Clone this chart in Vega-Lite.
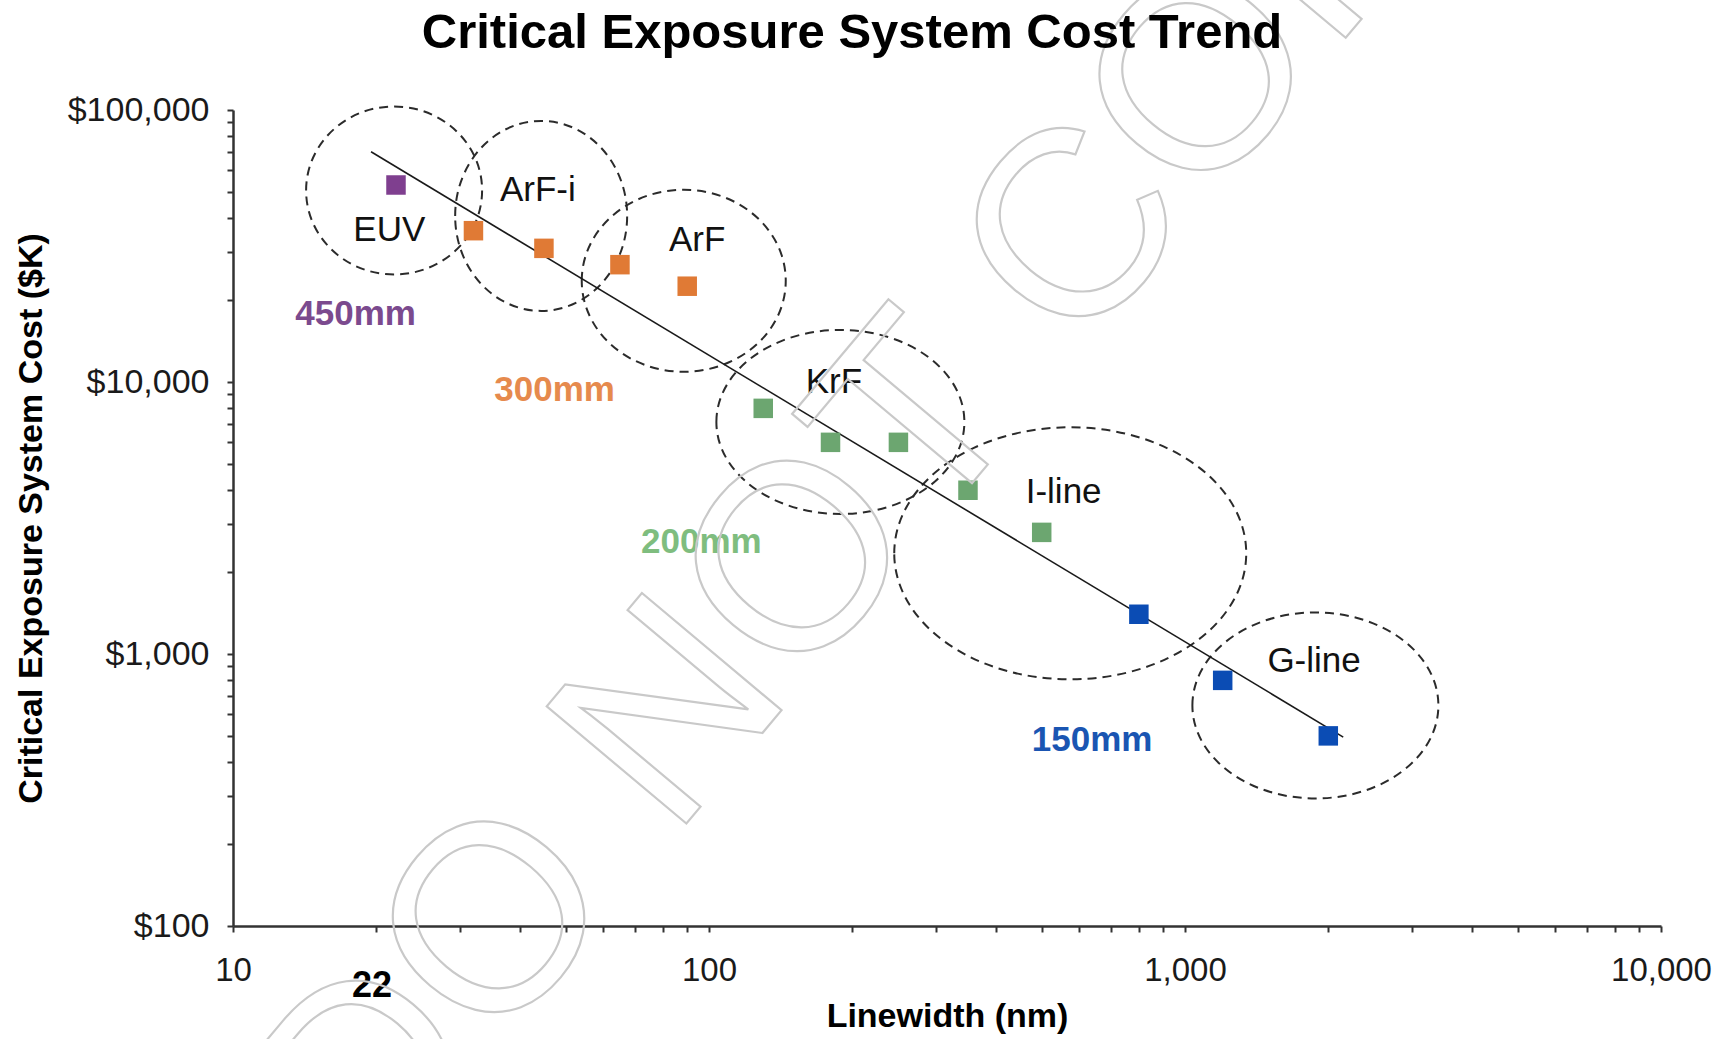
{
  "$schema": "https://vega.github.io/schema/vega-lite/v6.json",
  "autosize": "none",
  "width": 1428,
  "height": 816,
  "padding": {"left": 233, "top": 110, "right": 67, "bottom": 113},
  "background": "white",
  "config": {
    "view": {"stroke": null},
    "font": "Liberation Sans"
  },
  "title": {
    "text": "Critical Exposure System Cost Trend",
    "font": "Liberation Sans",
    "fontSize": 49,
    "fontWeight": "bold",
    "color": "#000000",
    "anchor": "middle",
    "dx": -95,
    "offset": -412
  },
  "datasets": {
    "points": [
      {"lw": 22, "cost": 53000, "wafer": "450mm"},
      {"lw": 32, "cost": 36000, "wafer": "300mm"},
      {"lw": 45, "cost": 31000, "wafer": "300mm"},
      {"lw": 65, "cost": 27000, "wafer": "300mm"},
      {"lw": 90, "cost": 22500, "wafer": "300mm"},
      {"lw": 130, "cost": 8000, "wafer": "200mm"},
      {"lw": 180, "cost": 6000, "wafer": "200mm"},
      {"lw": 250, "cost": 6000, "wafer": "200mm"},
      {"lw": 350, "cost": 4000, "wafer": "200mm"},
      {"lw": 500, "cost": 2800, "wafer": "200mm"},
      {"lw": 800, "cost": 1400, "wafer": "150mm"},
      {"lw": 1200, "cost": 800, "wafer": "150mm"},
      {"lw": 2000, "cost": 500, "wafer": "150mm"}
    ],
    "trend": [
      {"lw": 19.5, "cost": 70200},
      {"lw": 2150, "cost": 495}
    ],
    "groups": [
      {"tech": "EUV", "lw": 21.8, "cost": 50600},
      {"tech": "ArF-i", "lw": 44.4, "cost": 40800},
      {"tech": "ArF", "lw": 88.5, "cost": 23560},
      {"tech": "KrF", "lw": 188.8, "cost": 7130},
      {"tech": "I-line", "lw": 574, "cost": 2345},
      {"tech": "G-line", "lw": 1879, "cost": 647}
    ],
    "techLabels": [
      {"text": "EUV", "lw": 21.3, "cost": 36100},
      {"text": "ArF-i", "lw": 43.7, "cost": 51000},
      {"text": "ArF", "lw": 94.4, "cost": 33300},
      {"text": "KrF", "lw": 183, "cost": 9970},
      {"text": "I-line", "lw": 556, "cost": 3956},
      {"text": "G-line", "lw": 1867, "cost": 940}
    ],
    "waferLabels": [
      {"text": "450mm", "lw": 18.1, "cost": 17800},
      {"text": "300mm", "lw": 47.4, "cost": 9330},
      {"text": "200mm", "lw": 96.4, "cost": 2580},
      {"text": "150mm", "lw": 638, "cost": 484}
    ],
    "note": [
      {"text": "22", "lw": 19.6, "cost": 60}
    ],
    "watermark": [
      {"text": "DO NOT COPY", "lw": 255.6, "cost": 6070}
    ]
  },
  "encoding": {
    "x": {
      "field": "lw",
      "type": "quantitative",
      "scale": {"type": "log", "domain": [10, 10000], "nice": false},
      "axis": {
        "title": "Linewidth (nm)",
        "titleFont": "Liberation Sans",
        "titleFontSize": 34,
        "titleFontWeight": "bold",
        "titleColor": "#000000",
        "titleX": 714,
        "titleY": 90,
        "titleBaseline": "middle",
        "titleAnchor": null,
        "values": [10, 20, 30, 40, 50, 60, 70, 80, 90, 100, 200, 300, 400, 500, 600, 700, 800, 900, 1000, 2000, 3000, 4000, 5000, 6000, 7000, 8000, 9000, 10000],
        "labelExpr": "indexof([10,100,1000,10000], datum.value) >= 0 ? format(datum.value, ',') : ''",
        "labelOverlap": false,
        "labelFlush": false,
        "labelFont": "Liberation Sans",
        "labelFontSize": 33,
        "labelColor": "#1a1a1a",
        "labelPadding": 22,
        "tickSize": 6,
        "tickWidth": 2,
        "tickColor": "#333333",
        "domainColor": "#333333",
        "domainWidth": 2.5,
        "grid": false
      }
    },
    "y": {
      "field": "cost",
      "type": "quantitative",
      "scale": {"type": "log", "domain": [100, 100000], "nice": false},
      "axis": {
        "title": "Critical Exposure System Cost ($K)",
        "titleFont": "Liberation Sans",
        "titleFontSize": 34,
        "titleFontWeight": "bold",
        "titleColor": "#000000",
        "titleAngle": -90,
        "titleX": -202,
        "titleY": 408,
        "titleBaseline": "middle",
        "titleAlign": "center",
        "titleAnchor": null,
        "values": [100, 200, 300, 400, 500, 600, 700, 800, 900, 1000, 2000, 3000, 4000, 5000, 6000, 7000, 8000, 9000, 10000, 20000, 30000, 40000, 50000, 60000, 70000, 80000, 90000, 100000],
        "labelExpr": "indexof([100,1000,10000,100000], datum.value) >= 0 ? '$' + format(datum.value, ',') : ''",
        "labelOverlap": false,
        "labelFlush": false,
        "labelFont": "Liberation Sans",
        "labelFontSize": 34,
        "labelColor": "#1a1a1a",
        "labelPadding": 18,
        "tickSize": 6,
        "tickWidth": 2,
        "tickColor": "#333333",
        "domainColor": "#333333",
        "domainWidth": 2.5,
        "grid": false
      }
    }
  },
  "layer": [
    {
      "data": {"name": "groups"},
      "mark": {"type": "point", "filled": false, "size": 4, "opacity": 1, "stroke": "#2b2b2b", "strokeWidth": 2, "strokeDash": [9, 6]},
      "encoding": {
        "shape": {
          "field": "tech",
          "type": "nominal",
          "legend": null,
          "scale": {
            "domain": ["EUV", "ArF-i", "ArF", "KrF", "I-line", "G-line"],
            "range": [
              "M-88,0C-88,-46.4,-48.6,-84,0,-84C48.6,-84,88,-46.4,88,0C88,46.4,48.6,84,0,84C-48.6,84,-88,46.4,-88,0Z",
              "M-86,0C-86,-52.5,-47.5,-95,0,-95C47.5,-95,86,-52.5,86,0C86,52.5,47.5,95,0,95C-47.5,95,-86,52.5,-86,0Z",
              "M-102,0C-102,-50.3,-56.3,-91,0,-91C56.3,-91,102,-50.3,102,0C102,50.3,56.3,91,0,91C-56.3,91,-102,50.3,-102,0Z",
              "M-124,0C-124,-50.8,-68.5,-92,0,-92C68.5,-92,124,-50.8,124,0C124,50.8,68.5,92,0,92C-68.5,92,-124,50.8,-124,0Z",
              "M-176,0C-176,-69.6,-97.2,-126,0,-126C97.2,-126,176,-69.6,176,0C176,69.6,97.2,126,0,126C-97.2,126,-176,69.6,-176,0Z",
              "M-123,0C-123,-51.4,-67.9,-93,0,-93C67.9,-93,123,-51.4,123,0C123,51.4,67.9,93,0,93C-67.9,93,-123,51.4,-123,0Z"
            ]
          }
        }
      }
    },
    {
      "data": {"name": "trend"},
      "mark": {"type": "line", "color": "#1a1a1a", "strokeWidth": 1.6},
      "encoding": {}
    },
    {
      "data": {"name": "points"},
      "mark": {"type": "point", "shape": "square", "filled": true, "size": 380, "opacity": 1},
      "encoding": {
        "color": {
          "field": "wafer",
          "type": "nominal",
          "legend": null,
          "scale": {"domain": ["450mm", "300mm", "200mm", "150mm"], "range": ["#7f3f8f", "#e07a35", "#6ca670", "#0b4cb4"]}
        }
      }
    },
    {
      "data": {"name": "techLabels"},
      "mark": {"type": "text", "font": "Liberation Sans", "fontSize": 35, "color": "#111111", "align": "center", "baseline": "middle"},
      "encoding": {"text": {"field": "text"}}
    },
    {
      "data": {"name": "waferLabels"},
      "mark": {"type": "text", "font": "Liberation Sans", "fontSize": 35, "fontWeight": "bold", "align": "center", "baseline": "middle"},
      "encoding": {
        "text": {"field": "text"},
        "fill": {
          "field": "text",
          "type": "nominal",
          "legend": null,
          "scale": {"domain": ["450mm", "300mm", "200mm", "150mm"], "range": ["#7b4a8e", "#e68a4d", "#7fbd7f", "#1a55b2"]}
        }
      }
    },
    {
      "data": {"name": "note"},
      "mark": {"type": "text", "font": "Liberation Sans", "fontSize": 36, "fontWeight": "bold", "color": "#000000", "align": "center", "baseline": "middle"},
      "encoding": {"text": {"field": "text"}}
    },
    {
      "data": {"name": "watermark"},
      "mark": {"type": "text", "font": "Liberation Sans", "fontSize": 265, "angle": -50, "align": "center", "baseline": "middle", "fillOpacity": 0, "stroke": "#c9c9c9", "strokeWidth": 2.2},
      "encoding": {"text": {"field": "text"}}
    }
  ],
  "resolve": {"scale": {"color": "independent", "fill": "independent"}}
}
